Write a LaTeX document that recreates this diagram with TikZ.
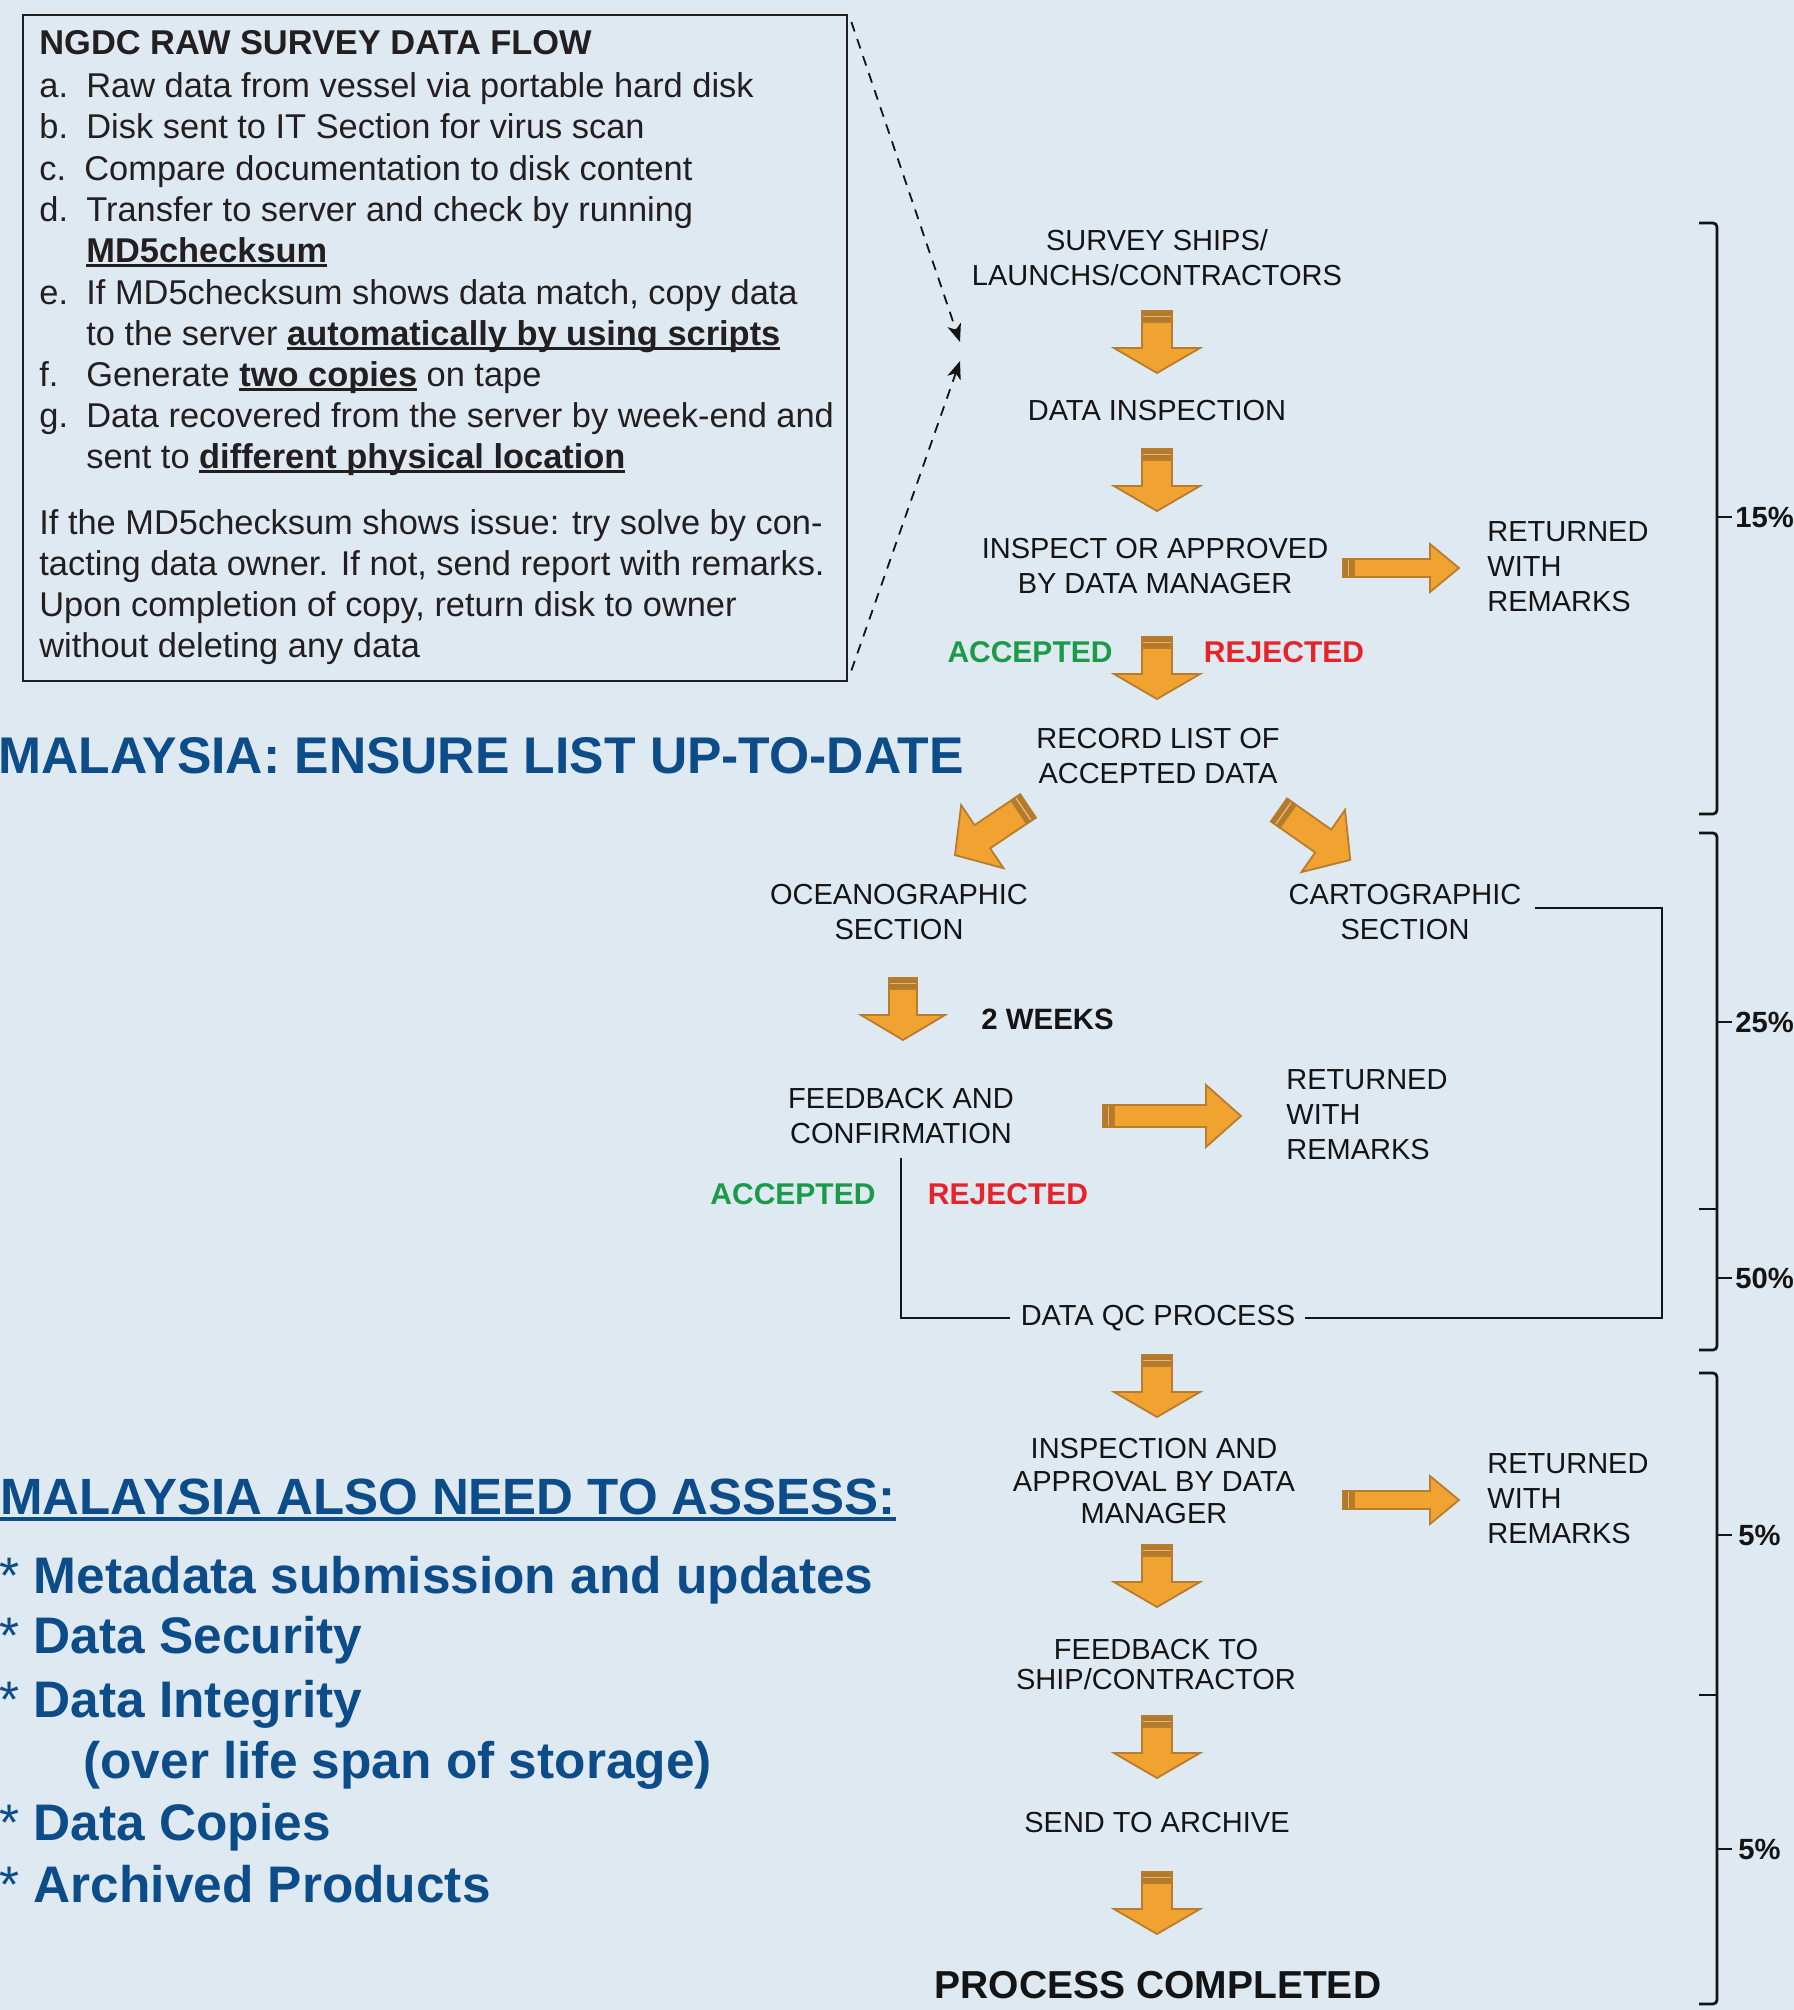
\documentclass[tikz,border=0pt]{standalone}
\usepackage{fontspec}
\setmainfont{Liberation Sans}
\usetikzlibrary{arrows.meta}
\definecolor{bg}{HTML}{DFE9F2}
\definecolor{orng}{HTML}{F1A331}
\definecolor{orngedge}{HTML}{B97C2C}
\definecolor{orngband}{HTML}{B27A2D}
\definecolor{bandline}{HTML}{E9B56A}
\definecolor{navy}{HTML}{0C4C89}
\definecolor{accg}{HTML}{1B9B4A}
\definecolor{rejr}{HTML}{E52329}
\definecolor{ink}{HTML}{141414}
\definecolor{boxink}{HTML}{231F20}
\newsavebox\ulbox
\newcommand\myul[1]{\sbox\ulbox{#1}\rlap{\rule[-0.145em]{\wd\ulbox}{0.085em}}\usebox\ulbox}
% tail x, tail y, angle, length, shaft half, head half, head length
\newcommand\blockarrow[7]{%
  \begin{scope}[shift={(#1,#2)},rotate=#3]
    \path[arrbody] (0,-#5) -- ({#4-#7},-#5) -- ({#4-#7},-#6) -- (#4,0) -- ({#4-#7},#6) -- ({#4-#7},#5) -- (0,#5) -- cycle;
    \fill[orngband] (0,-#5) rectangle (11,#5);
    \draw[bandline, line width=0.7pt] (5.5,-#5) -- (5.5,#5);
    \draw[orngedge, line width=0.8pt] (0,-#5) rectangle (11,#5);
  \end{scope}}
\tikzset{
  flowtxt/.style={font=\fontsize{14.5}{17.5}\selectfont, align=center, inner sep=0pt, text=ink},
  lefttxt/.style={font=\fontsize{14.5}{17.5}\selectfont, align=left, anchor=west, inner sep=0pt, text=ink},
  boxtxt/.style={font=\fontsize{17.2}{20.6}\selectfont, anchor=base west, inner sep=0pt, text=boxink},
  bluetxt/.style={font=\bfseries\fontsize{25.7}{30}\selectfont, anchor=base west, inner sep=0pt, text=navy},
  acclbl/.style={font=\bfseries\fontsize{15}{18}\selectfont, inner sep=0pt, text=accg},
  rejlbl/.style={font=\bfseries\fontsize{15}{18}\selectfont, inner sep=0pt, text=rejr},
  pct/.style={font=\bfseries\fontsize{14.6}{17}\selectfont, anchor=west, inner sep=0pt, text=ink},
  brk/.style={line width=1.4pt, draw=ink, rounded corners=2pt},
  qcline/.style={line width=1pt, draw=ink},
  dashar/.style={line width=0.9pt, draw=ink, dash pattern=on 5pt off 4pt, -{Stealth[length=9pt,width=7pt,inset=2.5pt]}},
  arrbody/.style={fill=orng, draw=orngedge, line width=0.9pt, line join=miter},
}
\begin{document}
\begin{tikzpicture}[x=0.5pt,y=-0.5pt]
\useasboundingbox (0,0) rectangle (1794,2010);
\fill[bg] (0,0) rectangle (1794,2010);

% ---------- info box ----------
\node[draw=boxink, line width=1.2pt, minimum width=412pt, minimum height=333pt, anchor=north west, inner sep=0pt] (box) at (22,14) {};
\node[boxtxt, font=\bfseries\fontsize{17.2}{20.6}\selectfont] (t0) at (39,54) {NGDC RAW SURVEY DATA FLOW};
\node[boxtxt] (la) at (39,97) {a.};
\node[boxtxt] (ta) at (86,97) {Raw data from vessel via portable hard disk};
\node[boxtxt] (lb) at (39,138) {b.};
\node[boxtxt] (tb) at (86,138) {Disk sent to IT Section for virus scan};
\node[boxtxt] (lc) at (39,180) {c.};
\node[boxtxt] (tc) at (84,180) {Compare documentation to disk content};
\node[boxtxt] (ld) at (39,221) {d.};
\node[boxtxt] (td) at (86,221) {Transfer to server and check by running};
\node[boxtxt] (td2) at (86,262) {\myul{\bfseries MD5checksum}};
\node[boxtxt] (le) at (39,304) {e.};
\node[boxtxt] (te) at (86,304) {If MD5checksum shows data match, copy data};
\node[boxtxt] (te2) at (86,345) {to the server \myul{\bfseries automatically by using scripts}};
\node[boxtxt] (lf) at (39,386) {f.};
\node[boxtxt] (tf) at (86,386) {Generate \myul{\bfseries two copies} on tape};
\node[boxtxt] (lg) at (39,427) {g.};
\node[boxtxt] (tg) at (86,427) {Data recovered from the server by week-end and};
\node[boxtxt] (tg2) at (86,468) {sent to \myul{\bfseries different physical location}};
\node[boxtxt] (p1) at (39,534) {If the MD5checksum shows issue: try solve by con-};
\node[boxtxt] (p2) at (39,575) {tacting data owner. If not, send report with remarks.};
\node[boxtxt] (p3) at (39,616) {Upon completion of copy, return disk to owner};
\node[boxtxt] (p4) at (39,657) {without deleting any data};

% ---------- blue texts ----------
\node[bluetxt, font=\bfseries\fontsize{25.8}{30}\selectfont] (ensure) at (-2,773) {MALAYSIA: ENSURE LIST UP-TO-DATE};
\node[bluetxt, font=\bfseries\fontsize{25.5}{30}\selectfont] (assess) at (0,1514) {\myul{MALAYSIA ALSO NEED TO ASSESS:}};
\node[bluetxt] (bl1) at (-1,1593) {{\mdseries *} Metadata submission and updates};
\node[bluetxt] (bl2) at (-1,1653) {{\mdseries *} Data Security};
\node[bluetxt] (bl3) at (-1,1717) {{\mdseries *} Data Integrity};
\node[bluetxt] (bl4) at (83,1778) {(over life span of storage)};
\node[bluetxt] (bl5) at (-1,1840) {{\mdseries *} Data Copies};
\node[bluetxt] (bl6) at (-1,1902) {{\mdseries *} Archived Products};

% ---------- flow nodes ----------
\node[flowtxt] (survey) at (1157,258) {SURVEY SHIPS/\\LAUNCHS/CONTRACTORS};
\node[flowtxt] (insp) at (1157,411) {DATA INSPECTION};
\node[flowtxt] (appr) at (1155,566) {INSPECT OR APPROVED\\BY DATA MANAGER};
\node[lefttxt] (ret1) at (1487,567) {RETURNED\\WITH\\REMARKS};
\node[acclbl] (acc1) at (1030,652) {ACCEPTED};
\node[rejlbl] (rej1) at (1284,652) {REJECTED};
\node[flowtxt] (rec) at (1158,756) {RECORD LIST OF\\ACCEPTED DATA};
\node[flowtxt] (ocean) at (899,912) {OCEANOGRAPHIC\\SECTION};
\node[flowtxt] (carto) at (1405,912) {CARTOGRAPHIC\\SECTION};
\node[font=\bfseries\fontsize{14.7}{17}\selectfont, anchor=west, inner sep=0pt, text=ink] (weeks) at (981,1019) {2 WEEKS};
\node[flowtxt] (fb) at (901,1116) {FEEDBACK AND\\CONFIRMATION};
\node[lefttxt] (ret2) at (1286,1115) {RETURNED\\WITH\\REMARKS};
\node[acclbl] (acc2) at (793,1194) {ACCEPTED};
\node[rejlbl] (rej2) at (1008,1194) {REJECTED};
\node[flowtxt] (qc) at (1158,1318) {DATA QC PROCESS};
\node[flowtxt, font=\fontsize{14.5}{16.3}\selectfont] (insp2) at (1154,1481) {INSPECTION AND\\APPROVAL BY DATA\\MANAGER};
\node[lefttxt] (ret3) at (1487,1499) {RETURNED\\WITH\\REMARKS};
\node[flowtxt, font=\fontsize{14.5}{15}\selectfont] (fbship) at (1156,1664) {FEEDBACK TO\\SHIP/CONTRACTOR};
\node[flowtxt] (arch) at (1157,1822) {SEND TO ARCHIVE};
\node[font=\bfseries\fontsize{19.5}{23}\selectfont, inner sep=0pt, text=ink] (done) at (1158,1985) {PROCESS COMPLETED};

% ---------- block arrows ----------
\blockarrow{1157}{311}{-90}{62}{15}{43}{25}
\blockarrow{1157}{449}{-90}{62}{15}{43}{25}
\blockarrow{1157}{637}{-90}{62}{15}{43}{25}
\blockarrow{1157}{1355}{-90}{62}{15}{43}{25}
\blockarrow{1157}{1545}{-90}{62}{15}{43}{25}
\blockarrow{1157}{1716}{-90}{62}{15}{43}{25}
\blockarrow{1157}{1872}{-90}{62}{15}{43}{25}
\blockarrow{903}{978}{-90}{62}{14}{42}{25}
\blockarrow{1343}{568}{0}{116}{9}{24}{29}
\blockarrow{1343}{1500}{0}{116}{9}{24}{29}
\blockarrow{1103}{1116}{0}{138}{11}{31}{35}
\blockarrow{1028}{806}{213.9}{88}{14}{38}{33}
\blockarrow{1279}{810}{-35}{87}{14}{38}{33}

% ---------- dashed connectors ----------
\coordinate (tipA) at (960,342);
\coordinate (tipB) at (960,361);
\draw[dashar] ([shift={(1.5pt,-4pt)}]box.north east) -- (tipA);
\draw[dashar] ([shift={(1.5pt,6pt)}]box.south east) -- (tipB);

% ---------- QC lines ----------
\coordinate (qcR) at (1662,1318);
\draw[qcline] ([xshift=6.5pt,yshift=2pt]carto.east) -| (qcR) -- ([xshift=4.5pt]qc.east);
\draw[qcline] ([yshift=-7pt]fb.south) |- ([xshift=-5pt]qc.west);

% ---------- brackets ----------
\draw[brk] (1699,223) -- (1717,223) -- (1717,814) -- (1699,814);
\draw[brk] (1717,517) -- (1732,517);
\node[pct] (p15) at (1735,517) {15\%};
\draw[brk] (1699,833) -- (1717,833) -- (1717,1350) -- (1699,1350);
\draw[brk] (1717,1209) -- (1699,1209);
\draw[brk] (1717,1022) -- (1732,1022);
\draw[brk] (1717,1278) -- (1732,1278);
\node[pct] (p25) at (1735,1022) {25\%};
\node[pct] (p50) at (1735,1278) {50\%};
\draw[brk] (1699,1373) -- (1717,1373) -- (1717,2004) -- (1699,2004);
\draw[brk] (1717,1695) -- (1699,1695);
\draw[brk] (1717,1535) -- (1732,1535);
\draw[brk] (1717,1849) -- (1732,1849);
\node[pct] (p5a) at (1738,1535) {5\%};
\node[pct] (p5b) at (1738,1849) {5\%};
\end{tikzpicture}
\end{document}
